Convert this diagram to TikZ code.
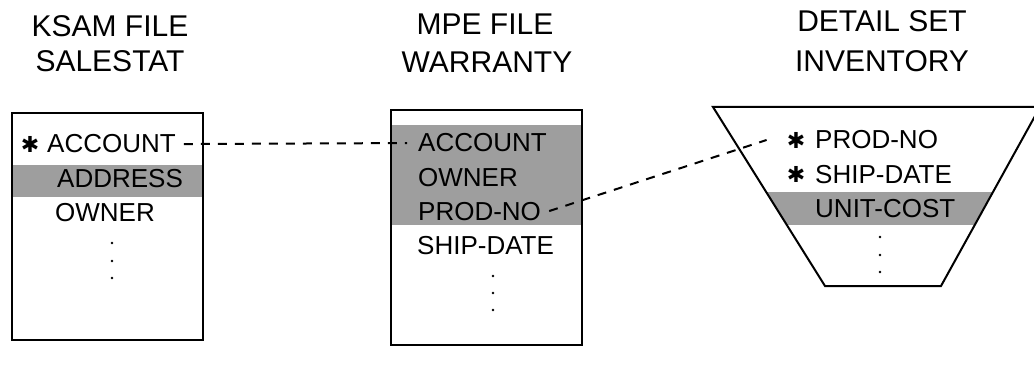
\documentclass[tikz,border=0pt]{standalone}
\usepackage{fontspec}
\setmainfont{Liberation Sans}
\newfontfamily\symfont{DejaVu Sans}
\begin{document}
\begin{tikzpicture}[x=1pt,y=-1pt,
  title/.style={anchor=base,inner sep=0pt,font=\fontsize{30}{36}\selectfont},
  row/.style={anchor=base west,inner sep=0pt,font=\fontsize{26}{30}\selectfont},
  keymark/.style={anchor=center,inner sep=0pt,font=\symfont\fontsize{22}{22}\selectfont},
  vdot/.style={circle,fill=black,inner sep=0pt,minimum size=2.6pt},
  outline/.style={draw=black,line width=2pt,line join=miter},
  band/.style={fill=black!38},
  conn/.style={draw=black,line width=2pt,dash pattern=on 9pt off 8pt}]
\useasboundingbox (0,0) rectangle (1034,377);
\clip (0,0) rectangle (1034,377);

% titles
\node[title] (t1a) at (110,37) {KSAM FILE};
\node[title] (t1b) at (110,72) {SALESTAT};
\node[title] (t2a) at (485,35) {MPE FILE};
\node[title] (t2b) at (487,73) {WARRANTY};
\node[title] (t3a) at (882,32) {DETAIL SET};
\node[title] (t3b) at (882,72) {INVENTORY};

% KSAM file box
\fill[band] (12,165) rectangle (203,197);
\draw[outline] (12,113) rectangle (203,340);
\node[keymark] (k1) at (30,144) {✱};
\node[row] (acc1) at (47,153) {ACCOUNT};
\node[row] (adr1) at (57,188) {ADDRESS};
\node[row] (own1) at (55,222) {OWNER};
\node[vdot] (d1a) at (112,243) {};
\node[vdot] (d1b) at (112,261) {};
\node[vdot] (d1c) at (112,278) {};

% MPE file box
\fill[band] (391,125) rectangle (582,225);
\draw[outline] (391,110) rectangle (582,345);
\node[row] (acc2) at (418,152) {ACCOUNT};
\node[row] (own2) at (418,186) {OWNER};
\node[row] (prd2) at (418,220) {PROD-NO};
\node[row] (shp2) at (417,254) {SHIP-DATE};
\node[vdot] (d2a) at (493,276) {};
\node[vdot] (d2b) at (493,293) {};
\node[vdot] (d2c) at (493,310) {};

% detail set (trapezoid)
\begin{scope}
  \clip (713,107) -- (825,286) -- (941,286) -- (1040,107) -- cycle;
  \fill[band] (700,192) rectangle (1040,225);
\end{scope}
\draw[outline] (713,107) -- (825,286) -- (941,286) -- (1040,107) -- cycle;
\node[keymark] (k3a) at (796,140) {✱};
\node[row] (prd3) at (815,149) {PROD-NO};
\node[keymark] (k3b) at (796,174) {✱};
\node[row] (shp3) at (815,183) {SHIP-DATE};
\node[row] (uc3) at (815,217) {UNIT-COST};
\node[vdot] (d3a) at (880,237) {};
\node[vdot] (d3b) at (880,255) {};
\node[vdot] (d3c) at (880,272) {};

% connectors
\draw[conn] ([xshift=8pt]acc1.east) -- ([xshift=-11pt]acc2.west);
\draw[conn] ([xshift=8pt]prd2.east) -- ([xshift=-20pt]k3a.west);
\end{tikzpicture}
\end{document}
